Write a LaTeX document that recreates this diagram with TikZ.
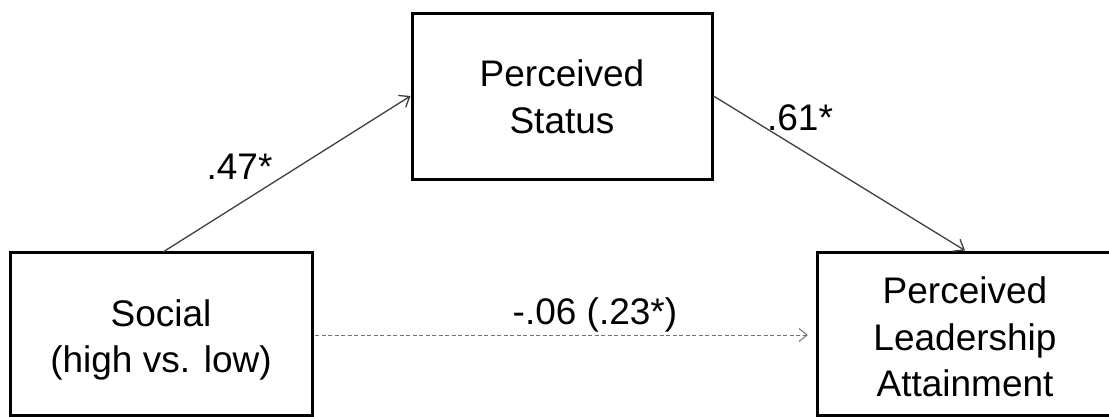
\documentclass[tikz,border=0pt]{standalone}
\usepackage{fontspec}
\setmainfont{Liberation Sans}
\usetikzlibrary{arrows.meta}
\begin{document}
\begin{tikzpicture}[x=1pt,y=-1pt,
  varbox/.style={draw=black,line width=3pt,rectangle,inner sep=0pt},
  vartext/.style={align=center,inner sep=0pt,font=\fontsize{37}{46.5}\selectfont},
  path/.style={draw=black!75,line width=1.3pt,-{Straight Barb[length=9pt,width=14pt,line width=1.3pt]}},
  dpath/.style={draw=black!55,line width=1pt,dash pattern=on 4pt off 2.5pt,
    -{Straight Barb[length=8pt,width=13pt,line width=1pt,sep]}},
  coef/.style={font=\fontsize{37}{42}\selectfont,inner sep=0pt,anchor=base}]
\clip (0,0) rectangle (1109,416);
\fill[white] (0,0) rectangle (1109,416);
\node[varbox,minimum width=302pt,minimum height=163pt] (soc) at (161,333.5) {};
\node[varbox,minimum width=300pt,minimum height=166pt] (sta) at (562,96) {};
\node[varbox,minimum width=296pt,minimum height=163pt] (lea) at (965,333.5) {};
\node[vartext] (soct) at (161,340) {Social\\(high vs. low)};
\node[vartext] (stat) at (562,97) {Perceived\\Status};
\node[vartext] (leat) at (965,337) {Perceived\\Leadership\\Attainment};
\coordinate (a1) at (163,252);
\coordinate (d1) at (315,335);
\coordinate (d2) at (809,335);
\draw[path] (a1) -- (sta.west);
\draw[path] (sta.east) -- (lea.north);
\draw[dpath] (d1) -- (d2);
\node[coef] (c1) at (239.5,179) {.47*};
\node[coef] (c2) at (800,130) {.61*};
\node[coef] (c3) at (595,324) {-.06 (.23*)};
\end{tikzpicture}
\end{document}
